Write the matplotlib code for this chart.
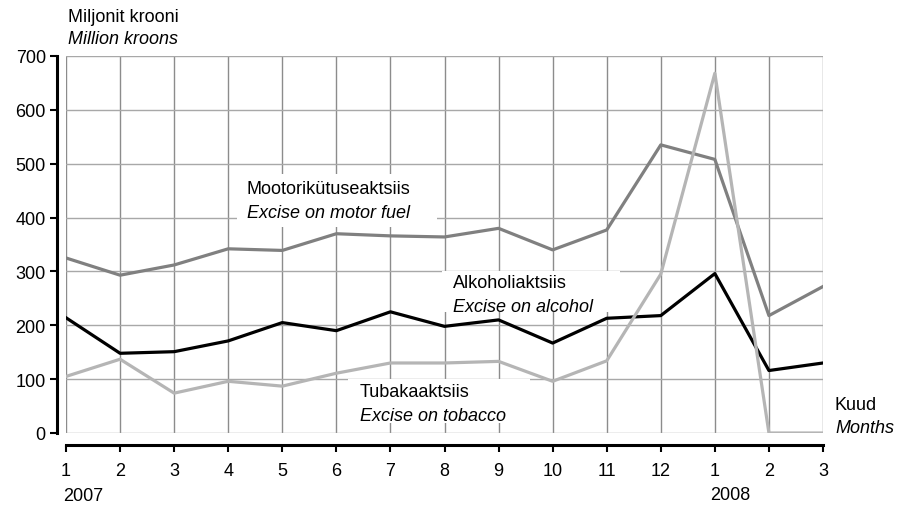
import matplotlib.pyplot as plt
from matplotlib.patches import Rectangle

plt.rcParams['font.family'] = ['Liberation Sans', 'DejaVu Sans']

# Monthly excise revenues, Jan 2007 - Mar 2008
months = ['1', '2', '3', '4', '5', '6', '7', '8', '9', '10', '11', '12', '1', '2', '3']
motor_fuel = [325, 293, 312, 342, 339, 370, 366, 364, 380, 340, 377, 535, 508, 218, 272]
alcohol = [214, 148, 151, 171, 205, 190, 225, 198, 210, 167, 213, 218, 296, 116, 130]
tobacco = [105, 137, 74, 96, 87, 111, 130, 130, 133, 96, 134, 295, 668, 0, 0]
y_ticks = [0, 100, 200, 300, 400, 500, 600, 700]

W, H = 898, 506
fig = plt.figure(figsize=(W / 100, H / 100), dpi=100)

# plot area in pixels
left, right, top, bottom = 66, 823, 57, 434
ax = fig.add_axes([left / W, 1 - bottom / H, (right - left) / W, (bottom - top) / H])

x = list(range(len(months)))
ax.plot(x, motor_fuel, color='#808080', lw=2.3, zorder=4)
ax.plot(x, alcohol, color='black', lw=2.3, zorder=4)
ax.plot(x, tobacco, color='#b5b5b5', lw=2.3, zorder=4)

ax.set_xlim(0, len(months) - 1)
ax.set_ylim(0, 700)
ax.set_xticks(x)
ax.set_xticklabels(months)
ax.set_yticks(y_ticks)
ax.set_yticklabels([str(v) for v in y_ticks])

ax.set_axisbelow(True)
ax.grid(True, axis='x', color='#8c8c8c', lw=1)
ax.grid(True, axis='y', color='#a8a8a8', lw=1)

for s in ['top', 'right']:
    ax.spines[s].set_visible(False)
ax.spines['left'].set_position(('outward', 6.5))
ax.spines['left'].set_linewidth(2.2)
ax.spines['bottom'].set_position(('outward', 8.6))
ax.spines['bottom'].set_linewidth(2.2)
ax.tick_params(axis='y', length=5, width=1.5, pad=3, labelsize=13)
ax.tick_params(axis='x', length=5, width=1.5, pad=7, labelsize=13)


def white_box(x0, y0, x1, y1):
    # pixel box -> axes fraction, hides the grid under a label
    r = Rectangle(((x0 - left) / (right - left), (bottom - y1) / (bottom - top)),
                  (x1 - x0) / (right - left), (y1 - y0) / (bottom - top),
                  transform=ax.transAxes, facecolor='white', edgecolor='none',
                  zorder=2, clip_on=False)
    ax.add_patch(r)


white_box(237, 175, 437, 228)
white_box(442, 272, 620, 313)
white_box(348, 380, 530, 424)


def px(xp, yp):
    return xp / W, 1 - yp / H


def label(xp, yp1, t1, t2, gap=24):
    fig.text(*px(xp, yp1), t1, fontsize=13, va='center', ha='left')
    fig.text(*px(xp, yp1 + gap), t2, fontsize=13, va='center', ha='left', style='italic')


label(247, 190, 'Mootorikütuseaktsiis', 'Excise on motor fuel')
label(453, 283, 'Alkoholiaktsiis', 'Excise on alcohol')
label(360, 393, 'Tubakaaktsiis', 'Excise on tobacco')
label(835, 405, 'Kuud', 'Months', gap=24)
label(68, 17, 'Miljonit krooni', 'Million kroons', gap=23)

fig.text(*px(63, 497), '2007', fontsize=13, va='center', ha='left')
fig.text(*px(710, 496), '2008', fontsize=13, va='center', ha='left')

fig.savefig('out.png', dpi=100)
